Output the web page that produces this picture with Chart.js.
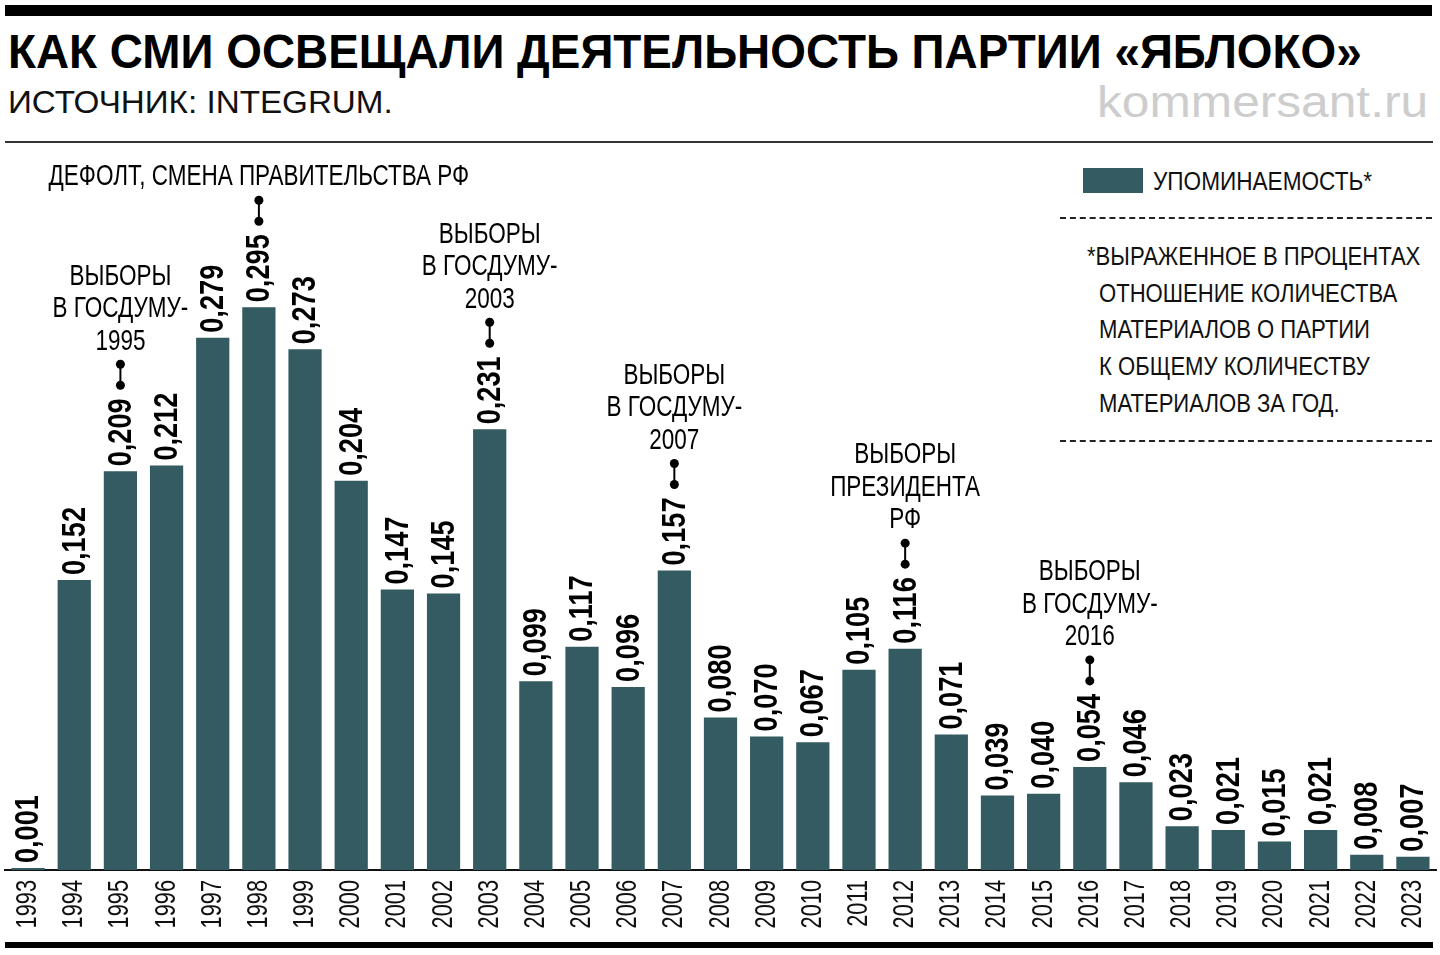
<!DOCTYPE html>
<html lang="ru">
<head>
<meta charset="utf-8">
<title>Как СМИ освещали деятельность партии «Яблоко»</title>
<script src="https://cdn.jsdelivr.net/npm/chart.js@4/dist/chart.umd.min.js"></script>
<style>
  html, body { margin: 0; padding: 0; background: #fff; }
  body { width: 1440px; height: 955px; position: relative; overflow: hidden;
         font-family: 'Liberation Sans', Arial, sans-serif; color: #111; }
  .abs { position: absolute; white-space: nowrap; line-height: 1; }
  #topbar { left: 5px; top: 5px; width: 1427px; height: 11px; background: #000; }
  #title { left: 8px; top: 28px; font-size: 48px; font-weight: bold; color: #000; transform-origin: left top; }
  #source { left: 8px; top: 86px; font-size: 32px; transform-origin: left top; }
  #site { right: 12px; top: 79px; font-size: 45px; color: #cdcdcd; transform-origin: right top; }
  #rule { left: 5px; top: 141px; width: 1428px; height: 2px; background: #333; }
  #bottomrule { left: 5px; top: 942px; width: 1428px; height: 6px; background: #000; }
  #legbox { left: 1083px; top: 168px; width: 60px; height: 25px; background: #335b61; }
  #legtext { left: 1153px; top: 168px; font-size: 26px; transform-origin: left top; }
  .dash { left: 1060px; width: 372px; height: 0; border-top: 2px dashed #222; }
  #note { left: 1087px; top: 238px; font-size: 26px; line-height: 36.7px; }
  #note div { transform-origin: left top; }
  canvas { position: absolute; left: 0; top: 0; }
</style>
</head>
<body>
<div class="abs" id="topbar"></div>
<div class="abs" id="title">КАК СМИ ОСВЕЩАЛИ ДЕЯТЕЛЬНОСТЬ ПАРТИИ «ЯБЛОКО»</div>
<div class="abs" id="source">ИСТОЧНИК: INTEGRUM.</div>
<div class="abs" id="site">kommersant.ru</div>
<div class="abs" id="rule"></div>

<div class="abs" id="legbox"></div>
<div class="abs" id="legtext">УПОМИНАЕМОСТЬ*</div>
<div class="abs dash" style="top:217px"></div>
<div class="abs" id="note">
  <div>*ВЫРАЖЕННОЕ В ПРОЦЕНТАХ</div>
  <div style="margin-left:12px">ОТНОШЕНИЕ КОЛИЧЕСТВА</div>
  <div style="margin-left:12px">МАТЕРИАЛОВ О ПАРТИИ</div>
  <div style="margin-left:12px">К ОБЩЕМУ КОЛИЧЕСТВУ</div>
  <div style="margin-left:12px">МАТЕРИАЛОВ ЗА ГОД.</div>
</div>
<div class="abs dash" style="top:440px"></div>
<div class="abs" id="bottomrule"></div>

<canvas id="chart" width="1440" height="955"></canvas>

<script>
// данные: упоминаемость партии по годам
const years = ['1993', '1994', '1995', '1996', '1997', '1998', '1999', '2000', '2001', '2002',
  '2003', '2004', '2005', '2006', '2007', '2008', '2009', '2010', '2011', '2012',
  '2013', '2014', '2015', '2016', '2017', '2018', '2019', '2020', '2021', '2022', '2023'];
const mentions = [0.001, 0.152, 0.209, 0.212, 0.279, 0.295, 0.273, 0.204, 0.147, 0.145,
  0.231, 0.099, 0.117, 0.096, 0.157, 0.080, 0.070, 0.067, 0.105, 0.116,
  0.071, 0.039, 0.040, 0.054, 0.046, 0.023, 0.021, 0.015, 0.021, 0.008, 0.007];

// события над столбцами
const eventYears = ['1995', '1998', '2003', '2007', '2012', '2016'];
const eventTexts = [
  ['ВЫБОРЫ', 'В ГОСДУМУ-', '1995'],
  ['ДЕФОЛТ, СМЕНА ПРАВИТЕЛЬСТВА РФ'],
  ['ВЫБОРЫ', 'В ГОСДУМУ-', '2003'],
  ['ВЫБОРЫ', 'В ГОСДУМУ-', '2007'],
  ['ВЫБОРЫ', 'ПРЕЗИДЕНТА', 'РФ'],
  ['ВЫБОРЫ', 'В ГОСДУМУ-', '2016']
];

const BAR_COLOR = '#335b61';
const FONT = "'Liberation Sans', Arial, sans-serif";

// узкий шрифт не установлен - сжимаем обычный по ширине
function squeeze(el, width) {
  el.style.transform = 'scaleX(' + (width / el.offsetWidth) + ')';
}
squeeze(document.getElementById('title'), 1354);
squeeze(document.getElementById('source'), 385);
squeeze(document.getElementById('site'), 331);
squeeze(document.getElementById('legtext'), 219);
const noteLines = document.querySelectorAll('#note div');
const noteScale = 333 / noteLines[0].offsetWidth;
noteLines.forEach(d => { d.style.transform = 'scaleX(' + noteScale + ')'; });

function formatValue(v) {
  return v.toFixed(3).replace('.', ',');
}

// подписи лет, значений и отметки событий
const labelsPlugin = {
  id: 'barLabels',
  afterDatasetsDraw(chart) {
    const ctx = chart.ctx;
    const meta = chart.getDatasetMeta(0);
    const xScale = chart.scales.x;
    const axisY = chart.chartArea.bottom;
    const labelLens = [];

    ctx.save();
    ctx.fillStyle = '#000';

    // года под осью
    ctx.font = '29px ' + FONT;
    years.forEach((yr, i) => {
      const x = xScale.getPixelForValue(i);
      ctx.save();
      ctx.translate(x, axisY + 10);
      ctx.rotate(-Math.PI / 2);
      ctx.scale(0.75, 1);
      ctx.textAlign = 'right';
      ctx.textBaseline = 'middle';
      ctx.fillStyle = '#111';
      ctx.fillText(yr, 0, 0);
      ctx.restore();
    });

    // значения над столбцами
    ctx.font = 'bold 34px ' + FONT;
    meta.data.forEach((bar, i) => {
      const txt = formatValue(mentions[i]);
      labelLens.push(ctx.measureText(txt).width * 0.8);
      ctx.save();
      ctx.translate(bar.x + 1, bar.y - 5);
      ctx.rotate(-Math.PI / 2);
      ctx.scale(0.8, 1);
      ctx.textAlign = 'left';
      ctx.textBaseline = 'middle';
      ctx.fillText(txt, 0, 0);
      ctx.restore();
    });

    // события
    eventYears.forEach((yr, k) => {
      const i = years.indexOf(yr);
      const bar = meta.data[i];
      const labelTop = bar.y - 5 - labelLens[i];
      const dotLow = labelTop - 13;
      const dotHigh = dotLow - 21;

      ctx.strokeStyle = '#000';
      ctx.lineWidth = 2;
      ctx.beginPath();
      ctx.moveTo(bar.x, dotLow);
      ctx.lineTo(bar.x, dotHigh);
      ctx.stroke();
      [dotLow, dotHigh].forEach(y => {
        ctx.beginPath();
        ctx.arc(bar.x, y, 4.5, 0, Math.PI * 2);
        ctx.fill();
      });

      const lines = eventTexts[k];
      ctx.font = '30px ' + FONT;
      ctx.textAlign = 'center';
      ctx.textBaseline = 'middle';
      lines.forEach((ln, j) => {
        const y = dotHigh - 23 - (lines.length - 1 - j) * 32.5;
        ctx.save();
        ctx.translate(bar.x, y);
        ctx.scale(0.75, 1);
        ctx.fillText(ln, 0, 0);
        ctx.restore();
      });
    });
    ctx.restore();
  }
};

new Chart(document.getElementById('chart'), {
  type: 'bar',
  data: {
    labels: years,
    datasets: [{
      label: 'УПОМИНАЕМОСТЬ*',
      data: mentions,
      backgroundColor: BAR_COLOR,
      borderWidth: 0,
      barPercentage: 0.72,
      categoryPercentage: 1
    }]
  },
  options: {
    responsive: false,
    animation: false,
    layout: { padding: { left: 5, right: 4, top: 107, bottom: 10 } },
    plugins: {
      legend: { display: false },
      tooltip: { enabled: false }
    },
    scales: {
      x: {
        grid: { display: false },
        border: { display: true, color: '#111', width: 2 },
        ticks: { display: false },
        afterFit(scale) { scale.height = 75; }
      },
      y: { display: false, min: 0, max: 0.4 }
    }
  },
  plugins: [labelsPlugin]
});
</script>
</body>
</html>
